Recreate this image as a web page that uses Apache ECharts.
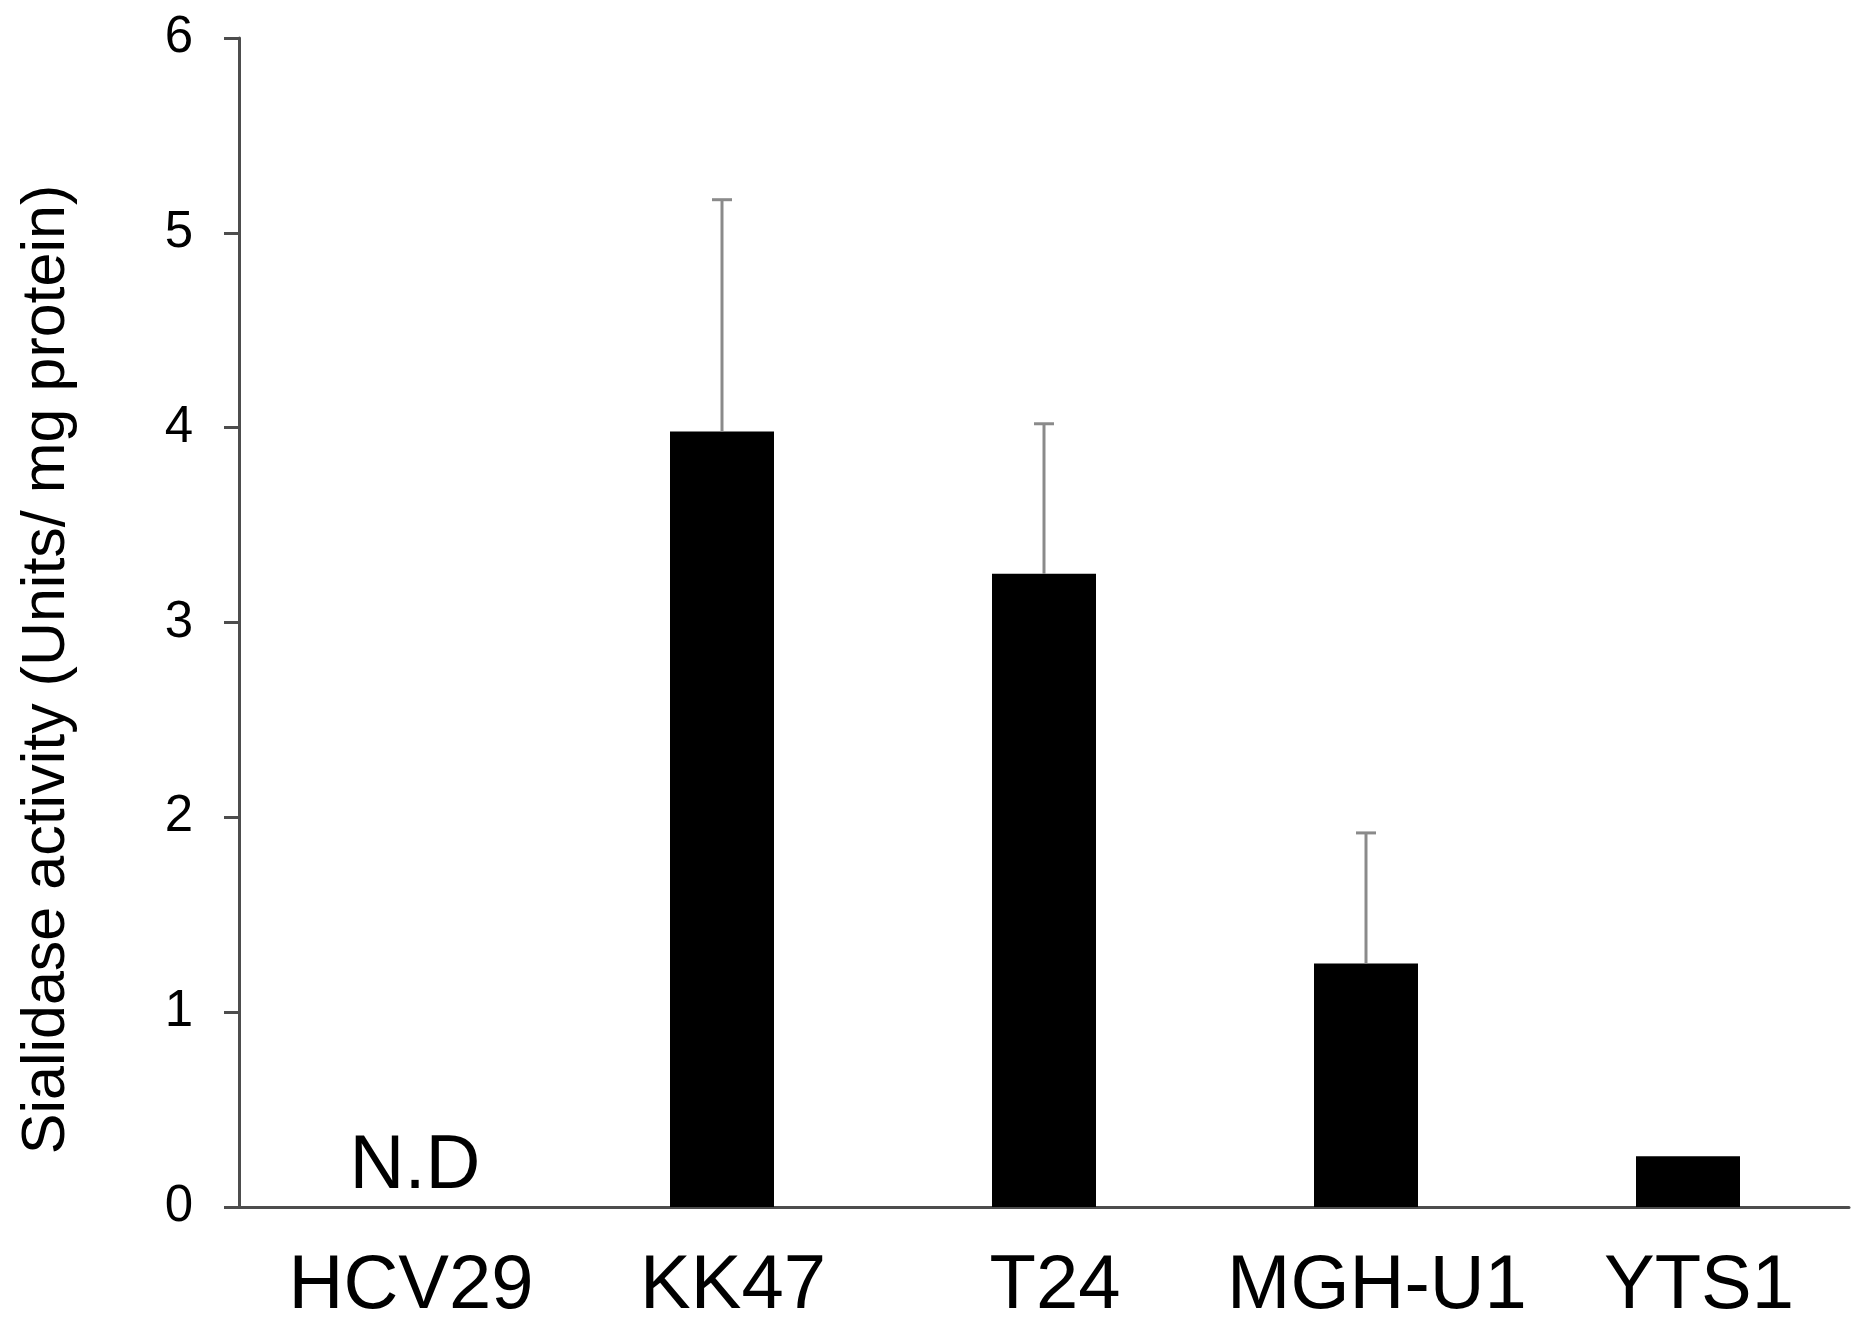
<!DOCTYPE html>
<html>
<head>
<meta charset="utf-8">
<script src="https://cdn.jsdelivr.net/npm/echarts@6/dist/echarts.min.js"></script>
<style>
html,body{margin:0;padding:0;background:#fff;}
#chart{width:1872px;height:1339px;}
</style>
</head>
<body>
<div id="chart"></div>
<script>
const categories = ['HCV29', 'KK47', 'T24', 'MGH-U1', 'YTS1'];
const activity = [0, 3.98, 3.25, 1.25, 0.26];
const errorSD = [null, 1.19, 0.77, 0.67, null];
const notDetected = ['N.D', '', '', '', ''];
const yTicks = [0, 1, 2, 3, 4, 5, 6];
const yTitle = 'Sialidase activity (Units/ mg protein)';

const FONT = '"Liberation Sans", Arial, Helvetica, sans-serif';
const chart = echarts.init(document.getElementById('chart'), null, {renderer: 'canvas'});

const barData = activity.map((v, i) => ({
  value: v,
  label: notDetected[i] ? {
    show: true, formatter: notDetected[i], position: 'top', distance: 2,
    offset: [15, 0], color: '#000', fontSize: 76, fontFamily: FONT
  } : {show: false}
}));

const errData = activity.map((v, i) => [i, v, errorSD[i]]);

chart.setOption({
  animation: false,
  backgroundColor: '#fff',
  grid: {left: 239, right: 23, top: 38, bottom: 132, containLabel: false},
  xAxis: {
    type: 'category',
    data: categories,
    axisLine: {show: true, lineStyle: {color: '#4d4d4d', width: 3}},
    axisTick: {show: false},
    axisLabel: {
      interval: 0,
      color: '#000', fontSize: 76, fontFamily: FONT, margin: 42,
      padding: [0, 0, 0, 22]
    },
    splitLine: {show: false}
  },
  yAxis: {
    type: 'value',
    min: yTicks[0], max: yTicks[yTicks.length - 1], interval: 1,
    name: yTitle,
    nameLocation: 'middle',
    nameRotate: 90,
    nameGap: 161,
    nameTextStyle: {color: '#000', fontSize: 61, fontFamily: FONT, padding: [0, 94, 0, 0]},
    axisLine: {show: true, lineStyle: {color: '#4d4d4d', width: 3}},
    axisTick: {show: true, inside: false, length: 15, lineStyle: {color: '#4d4d4d', width: 3}},
    axisLabel: {color: '#000', fontSize: 51, fontFamily: FONT, margin: 46},
    splitLine: {show: false}
  },
  series: [
    {
      type: 'bar',
      data: barData,
      barWidth: 104,
      itemStyle: {color: '#000'},
      z: 2
    },
    {
      type: 'custom',
      data: errData,
      z: 3,
      renderItem: function (params, api) {
        const sd = api.value(2);
        if (sd == null || isNaN(sd) || sd === 0) return null;
        const x = api.value(0);
        const v = api.value(1);
        const p0 = api.coord([x, v]);
        const p1 = api.coord([x, v + sd]);
        const half = 10;
        const style = {stroke: '#8a8a8a', lineWidth: 3};
        return {
          type: 'group',
          children: [
            {type: 'line', shape: {x1: p0[0], y1: p0[1], x2: p1[0], y2: p1[1]}, style: style},
            {type: 'line', shape: {x1: p1[0] - half, y1: p1[1], x2: p1[0] + half, y2: p1[1]}, style: style}
          ]
        };
      }
    }
  ]
});
</script>
</body>
</html>
